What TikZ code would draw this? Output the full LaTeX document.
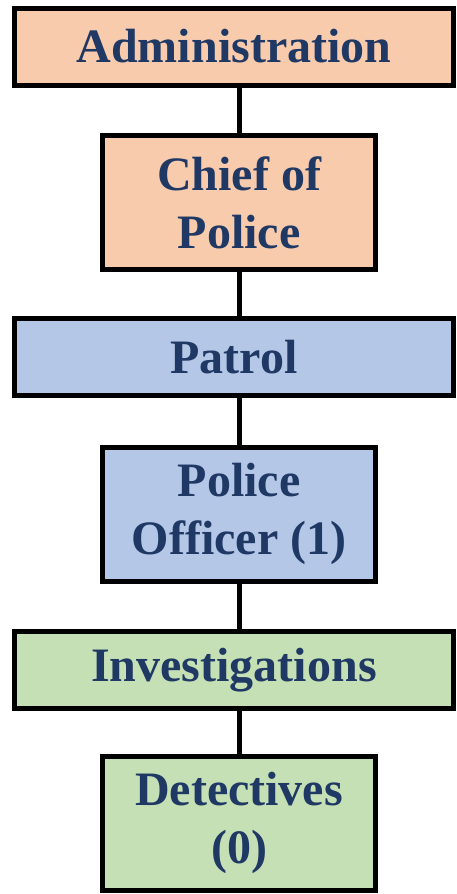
\documentclass[tikz,border=0pt]{standalone}
\usepackage{fontspec}
\setmainfont{Liberation Serif}
\usepackage{tikz}
\definecolor{peach}{HTML}{F8CBAD}
\definecolor{paleblue}{HTML}{B4C7E7}
\definecolor{palegreen}{HTML}{C5E0B4}
\definecolor{navytext}{HTML}{1F3864}
\begin{document}
\begin{tikzpicture}[x=1pt, y=-1pt,
    box/.style={draw=black, line width=5pt, inner sep=0pt, align=center,
      text=navytext, font=\fontsize{48}{58}\selectfont\bfseries},
    widebox/.style={box, minimum width=439pt, minimum height=77pt},
    narrowbox/.style={box, minimum width=273pt, minimum height=134pt}]
      \useasboundingbox (0, 0) rectangle (456, 894);
      \node[widebox, fill=peach] (admin) at (234, 46.5) {Administration};
      \node[narrowbox, fill=peach] (chief) at (239, 202.5) {Chief of\\Police};
      \node[widebox, fill=paleblue] (patrol) at (234, 357) {Patrol};
      \node[narrowbox, fill=paleblue] (officer) at (239, 514) {Police\\Officer (1)};
      \node[widebox, fill=palegreen] (invest) at (234, 670) {Investigations};
      \node[narrowbox, fill=palegreen] (detect) at (239, 823) {Detectives\\(0)};
      \draw[line width=5pt] (chief.north |- admin.south) -- (chief.north);
      \draw[line width=5pt] (chief.south) -- (chief.south |- patrol.north);
      \draw[line width=5pt] (officer.north |- patrol.south) -- (officer.north);
      \draw[line width=5pt] (officer.south) -- (officer.south |- invest.north);
      \draw[line width=5pt] (detect.north |- invest.south) -- (detect.north);
    \end{tikzpicture}
\end{document}
